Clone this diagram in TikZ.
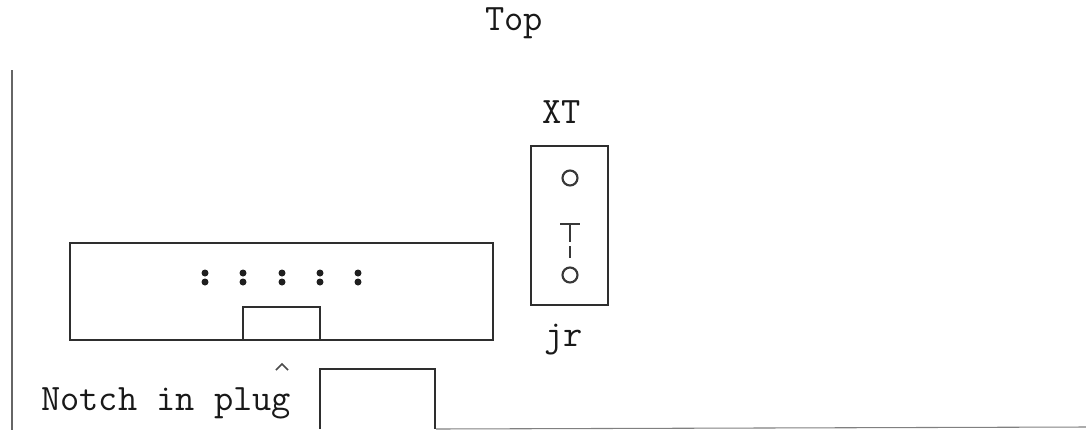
\documentclass[tikz,border=0pt]{standalone}
\usepackage{fontspec}
\begin{document}
\begin{tikzpicture}[x=0.75pt,y=-0.75pt,
  ink/.style={draw=black!82,line width=1.35pt},
  edge/.style={draw=black!60,line width=1.5pt},
  hole/.style={draw=black!78,line width=1.6pt},
  dot/.style={fill=black!88,draw=none},
  lbl/.style={inner sep=0pt,anchor=base west,font=\ttfamily\fontsize{28}{28}\selectfont,text=black!90}]
\useasboundingbox (0,0) rectangle (1086,430);
\fill[white] (0,0) rectangle (1086,430);
% page edges
\draw[edge] (12,70) -- (12,430);
\draw[draw=black!50,line width=0.8pt] (436,429) -- (1086,427);
% plug body
\draw[ink] (70,243) rectangle (493,340);
\draw[ink] (243,340) -- (243,307) -- (320,307) -- (320,340);
% pins
\foreach \x in {205,243,282,320,358}{
  \fill[dot] (\x,273) circle (3.5);
  \fill[dot] (\x,282) circle (3.5);
}
% lower box
\draw[ink] (320,429) -- (320,369) -- (435,369) -- (435,429);
% jumper
\draw[ink] (531,146) rectangle (608,305);
\draw[hole] (570,178) circle (7.5);
\draw[hole] (560,224) -- (580,224);
\draw[hole] (570,224) -- (570,242);
\draw[hole] (570,246) -- (570,258);
\draw[hole] (570,275) circle (7.5);
% caret
\draw[draw=black!70,line width=1.1pt] (276,370) -- (282,364) -- (288,370);
% labels
\node[lbl] (top) at (485,30) {Top};
\node[lbl] (xt) at (542,123) {XT};
\node[lbl] (jr) at (544,346) {jr};
\node[lbl] (notch) at (41,410) {Notch in plug};
\end{tikzpicture}
\end{document}
